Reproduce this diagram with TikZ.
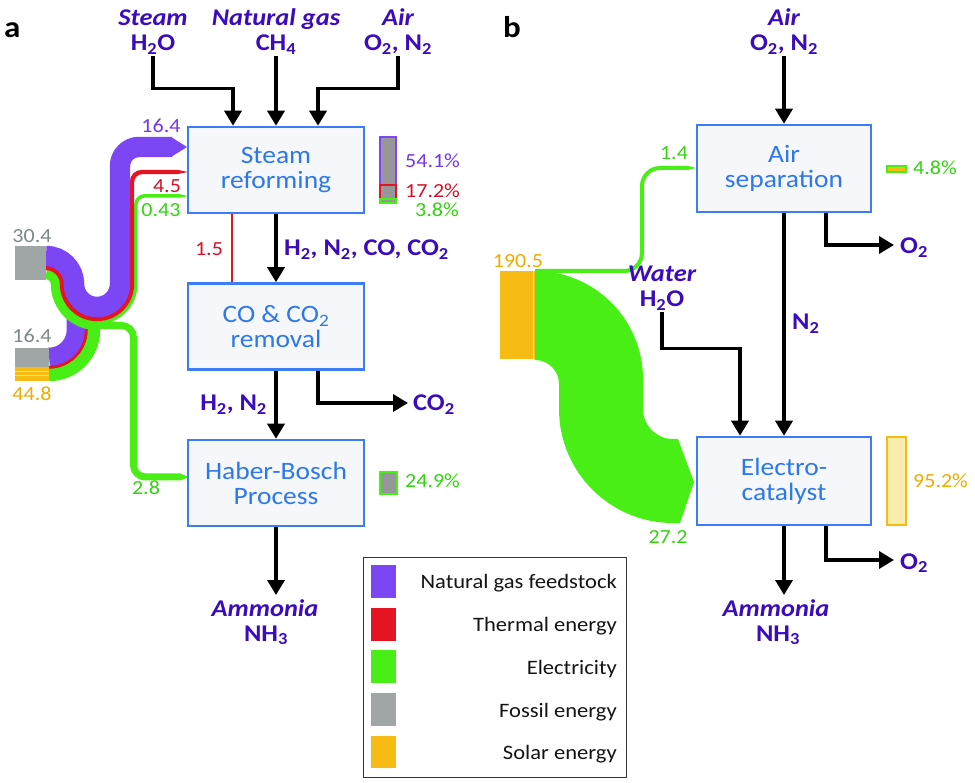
\documentclass[tikz,border=0pt]{standalone}
\usepackage{fontspec}
\setmainfont{Carlito}[FakeStretch=1.1]
\usetikzlibrary{arrows.meta}
\definecolor{fpurple}{RGB}{125,70,245}
\definecolor{fred}{RGB}{228,20,35}
\definecolor{fgreen}{RGB}{72,238,22}
\definecolor{fgray}{RGB}{160,166,166}
\definecolor{fyellow}{RGB}{246,188,20}
\definecolor{labc}{RGB}{58,12,190}
\definecolor{boxc}{RGB}{60,125,245}
\definecolor{boxtxt}{RGB}{45,120,235}
\definecolor{boxfill}{RGB}{246,247,250}
\definecolor{tpurple}{RGB}{115,55,235}
\definecolor{tred}{RGB}{215,15,40}
\definecolor{tgreen}{RGB}{50,212,15}
\definecolor{tgray}{RGB}{125,135,135}
\definecolor{torange}{RGB}{240,170,0}
\definecolor{hatch}{RGB}{150,150,155}
\definecolor{legc}{RGB}{20,20,20}
\definecolor{lightyel}{RGB}{250,236,170}
\tikzset{
 arr/.style={line width=3.5pt, -{Triangle[width=17pt,length=15pt]}},
 box/.style={draw=boxc, line width=2.5pt, fill=boxfill, text=boxtxt, minimum width=176pt, minimum height=86pt, align=center, inner sep=0pt, font=\fontsize{25}{25}\selectfont},
 lbl/.style={text=labc, inner sep=0pt, anchor=base, font=\fontsize{24}{26}\selectfont\bfseries},
 lbli/.style={text=labc, inner sep=0pt, anchor=base, font=\fontsize{24}{26}\selectfont\bfseries\itshape},
 num/.style={inner sep=0pt, anchor=base, font=\fontsize{20}{22}\selectfont},
 pct/.style={inner sep=0pt, anchor=base west, font=\fontsize{20}{22}\selectfont},
 legtxt/.style={inner sep=0pt, anchor=base east, text=legc, font=\fontsize{20.5}{22}\selectfont},
 bar/.style={line width=1.5pt},
 panel/.style={inner sep=0pt, anchor=base west, font=\fontsize{30}{30}\selectfont\bfseries},
}
\begin{document}
\begin{tikzpicture}[x=1pt,y=-1pt]
\useasboundingbox (0,0) rectangle (975,783);
\fill[white] (0,0) rectangle (975,783);

% ---------------- panel a : Sankey flows ----------------
% flow B (lower source)
\draw[fpurple, line width=18.6pt] (49,357) arc[start angle=90,end angle=0,radius=27] -- (76,316);
\draw[fred, line width=3.4pt] (49,367.5) arc[start angle=90,end angle=0,radius=37.5] -- (86.5,316);
\draw[fgreen, line width=12.4pt] (49,375) arc[start angle=90,end angle=0,radius=45] -- (94,316);
% flow A green
\draw[fgreen, line width=9.4pt] (46,274.5) arc[start angle=-90,end angle=0,radius=9.5] arc[start angle=180,end angle=90,radius=41.5];
\draw[fgreen, line width=7pt] (96,325.5) -- (121.5,325.5) arc[start angle=-90,end angle=0,radius=12] -- (133.5,465) arc[start angle=180,end angle=90,radius=12] -- (180,477);
\fill[fgreen] (180,473.5) -- (189,477) -- (180,480.5) -- cycle;
\draw[fgreen, line width=3.5pt] (97,322.75) arc[start angle=90,end angle=0,radius=38.75] -- (135.75,205) arc[start angle=180,end angle=270,radius=9.25] -- (180,196);
\fill[fgreen] (180,194.25) -- (188,196) -- (180,197.75) -- cycle;
% flow A red
\draw[fred, line width=4.4pt] (46,268) arc[start angle=-90,end angle=0,radius=16] arc[start angle=180,end angle=0,radius=35] -- (132,182) arc[start angle=180,end angle=270,radius=10] -- (178,172);
\fill[fred] (178,170) -- (188,172) -- (178,174) -- cycle;
% flow A purple
\draw[fpurple, line width=20.4pt] (46,256) arc[start angle=-90,end angle=0,radius=28] arc[start angle=180,end angle=0,radius=23] -- (120,166) arc[start angle=180,end angle=270,radius=19] -- (172,147);
\fill[fpurple] (171,137) -- (187,147) -- (171,157) -- cycle;
% sources
\fill[fgray] (15,246) rectangle (46,280);
\fill[fgray] (15,348) rectangle (49,367);
\fill[fyellow] (15,367) rectangle (49,381);
\draw[white!55!fyellow, line width=0.8pt] (15,371) -- (49,371) (15,375.5) -- (49,375.5);
% red thin line 1.5

% ---------------- panel a : boxes ----------------
\node[box] (sr) at (276,170) {Steam\\reforming};
\node[box] (co) at (276,326.5) {CO \& CO\textsubscript{2}\\removal};
\node[box] (hb) at (276,483) {Haber-Bosch\\Process};

\draw[fred, line width=1.2pt] ([xshift=-44pt]sr.south) -- ([xshift=-44pt]co.north);

% inputs
\node[lbli] (steamw) at (153,26) {Steam};
\node[lbl] (steamf) at (153,51) {H\textsubscript{2}O};
\node[lbli] (ngw) at (276,26) {Natural gas};
\node[lbl] (ngf) at (276,51) {CH\textsubscript{4}};
\node[lbli] (airw) at (398,26) {Air};
\node[lbl] (airf) at (398,51) {O\textsubscript{2}, N\textsubscript{2}};
\coordinate (st1) at (153,56);
\coordinate (ng1) at (276,56);
\coordinate (ai1) at (398,56);
\draw[arr] (st1) |- ([xshift=-43pt,yshift=37pt]sr.north) -- ([xshift=-43pt]sr.north);
\draw[arr] (ng1) -- (sr.north);
\draw[arr] (ai1) |- ([xshift=42pt,yshift=37pt]sr.north) -- ([xshift=42pt]sr.north);

\draw[arr] (sr.south) -- (co.north);
\node[lbl, anchor=base west] (gas1) at (284,256) {H\textsubscript{2}, N\textsubscript{2}, CO, CO\textsubscript{2}};
\draw[arr] (co.south) -- (hb.north);
\node[lbl, anchor=base east] (gas2) at (267,411) {H\textsubscript{2}, N\textsubscript{2}};
\coordinate (co2tip) at (408,403);
\draw[arr] ([xshift=42pt]co.south) |- (co2tip);
\node[lbl, anchor=base west] (co2) at (413,411) {CO\textsubscript{2}};
\coordinate (amtip) at (276,595);
\draw[arr] (hb.south) -- (amtip);
\node[lbli] (amw) at (265,616) {Ammonia};
\node[lbl] (amf) at (266,641) {NH\textsubscript{3}};

% numbers panel a
\node[num, text=tpurple] (n164) at (161,133) {16.4};
\node[num, text=tred] (n45) at (167,193) {4.5};
\node[num, text=tgreen] (n043) at (161,217) {0.43};
\node[num, text=tred] (n15) at (209,256) {1.5};
\node[num, text=tgreen] (n28) at (146,494) {2.8};
\node[num, text=tgray] (n304) at (32,243) {30.4};
\node[num, text=tgray] (n164b) at (32,343) {16.4};
\node[num, text=torange] (n448) at (32,401) {44.8};

% bars panel a
\draw[bar, draw=fpurple, fill=hatch] (380,137) rectangle (396,185);
\draw[bar, draw=fred, fill=hatch] (380,185) rectangle (396,199);
\draw[bar, draw=fgreen, fill=hatch] (380,199) rectangle (396,203);
\node[pct, text=tpurple] (p541) at (405,168) {54.1\%};
\node[pct, text=tred] (p172) at (405,198) {17.2\%};
\node[pct, text=tgreen] (p38) at (415,217) {3.8\%};
\draw[bar, draw=fgreen, fill=hatch] (380,472) rectangle (397,494);
\node[pct, text=tgreen] (p249) at (405,488) {24.9\%};

% ---------------- panel b ----------------
\fill[fgreen] (535,271) arc[start angle=-90,end angle=0,radius=108] -- (643,409) arc[start angle=180,end angle=90,radius=30] -- (678,439) -- (694,482) -- (680,523) -- (673,523) arc[start angle=90,end angle=180,radius=114] -- (559,384) arc[start angle=0,end angle=-90,radius=24] -- cycle;
\draw[fgreen, line width=4pt] (535,271) -- (624,271) arc[start angle=90,end angle=0,radius=18] -- (642,186) arc[start angle=180,end angle=270,radius=18] -- (688,168);
\fill[fgreen] (688,166) -- (696,168) -- (688,170) -- cycle;
\fill[fyellow] (500,271) rectangle (535,359);
\draw[white!60!fyellow, line width=1pt] (533,271) -- (533,359);
\node[num, text=torange] (n1905) at (518,268) {190.5};
\node[num, text=tgreen] (n14) at (674,160) {1.4};
\node[num, text=tgreen] (n272) at (668,543) {27.2};

\node[box, minimum width=174pt, minimum height=87pt] (as) at (784,168.5) {Air\\separation};
\node[box, minimum width=174pt, minimum height=88pt] (ec) at (784,481) {Electro-\\catalyst};

\node[lbli] (airw2) at (784,26) {Air};
\node[lbl] (airf2) at (784,51) {O\textsubscript{2}, N\textsubscript{2}};
\coordinate (ai2) at (784,56);
\draw[arr] (ai2) -- (as.north);
\draw[arr] (as.south) -- (ec.north);
\node[lbl, anchor=base west] (n2lbl) at (792,330) {N\textsubscript{2}};
\coordinate (o2tipa) at (894,245);
\draw[arr] ([xshift=42pt]as.south) |- (o2tipa);
\node[lbl, anchor=base west] (o2a) at (900,254) {O\textsubscript{2}};
\node[lbli] (waterw) at (662,282) {Water};
\node[lbl] (waterf) at (662,307) {H\textsubscript{2}O};
\coordinate (wa1) at (662,312);
\draw[arr] (wa1) |- ([xshift=-44pt,yshift=87pt]ec.north) -- ([xshift=-44pt]ec.north);
\coordinate (o2tipb) at (894,560);
\draw[arr] ([xshift=42pt]ec.south) |- (o2tipb);
\node[lbl, anchor=base west] (o2b) at (900,569) {O\textsubscript{2}};
\coordinate (amtip2) at (784,595);
\draw[arr] (ec.south) -- (amtip2);
\node[lbli] (amw2) at (776,616) {Ammonia};
\node[lbl] (amf2) at (778,641) {NH\textsubscript{3}};

\draw[bar, draw=fgreen, fill=fyellow] (887,166) rectangle (906,172);
\node[pct, text=tgreen] (p48) at (913,175) {4.8\%};
\draw[bar, draw=fyellow, fill=lightyel] (887,437) rectangle (906,525);
\node[pct, text=torange] (p952) at (913,488) {95.2\%};

% ---------------- legend ----------------
\draw[line width=1pt, draw=black!80] (363,557) rectangle (626,777);
\fill[fpurple] (371,565) rectangle (396,598);
\fill[fred] (371,608) rectangle (396,641);
\fill[fgreen] (371,650) rectangle (396,683);
\fill[fgray] (371,693) rectangle (396,726);
\fill[fyellow] (371,736) rectangle (396,768);
\node[legtxt] (l1) at (617,588) {Natural gas feedstock};
\node[legtxt] (l2) at (617,631) {Thermal energy};
\node[legtxt] (l3) at (617,674) {Electricity};
\node[legtxt] (l4) at (617,717) {Fossil energy};
\node[legtxt] (l5) at (617,759) {Solar energy};

% panel labels
\node[panel] (pa) at (4,38) {a};
\node[panel] (pb) at (503,38) {b};
\end{tikzpicture}
\end{document}
